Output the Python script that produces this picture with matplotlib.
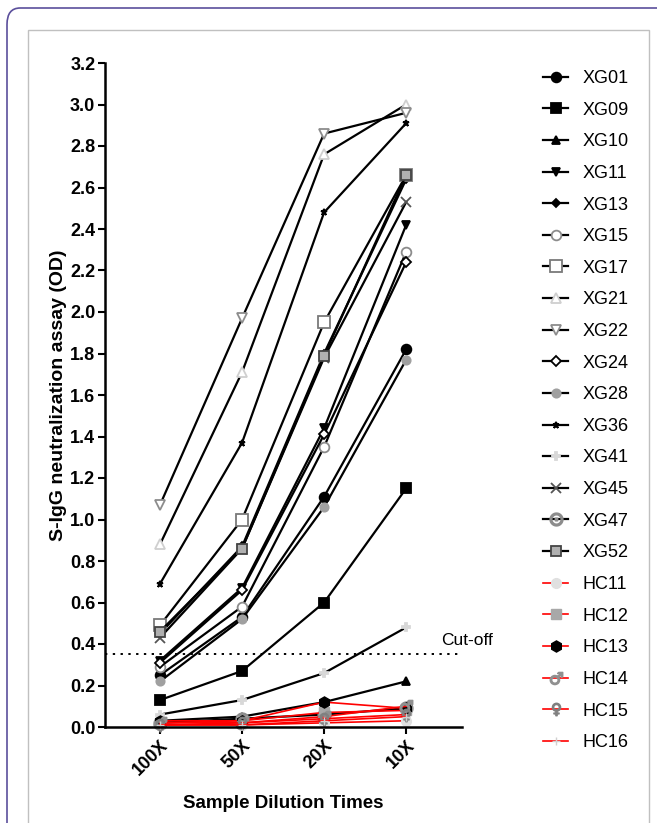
import matplotlib
matplotlib.use("Agg")
import matplotlib.pyplot as plt
from matplotlib.patches import FancyBboxPatch, Rectangle

plt.rcParams['font.family'] = ['Liberation Sans', 'DejaVu Sans']

dilutions = ['100X', '50X', '20X', '10X']
cutoff = 0.35

# S-IgG OD values per sample (100X, 50X, 20X, 10X)
xg01 = [0.25, 0.53, 1.11, 1.82]
xg09 = [0.13, 0.27, 0.60, 1.15]
xg10 = [0.03, 0.05, 0.12, 0.22]
xg11 = [0.32, 0.67, 1.44, 2.42]
xg13 = [0.45, 0.87, 1.80, 2.64]
xg15 = [0.29, 0.58, 1.35, 2.29]
xg17 = [0.49, 1.00, 1.95, 2.66]
xg21 = [0.88, 1.71, 2.76, 3.00]
xg22 = [1.07, 1.97, 2.86, 2.96]
xg24 = [0.31, 0.66, 1.41, 2.24]
xg28 = [0.22, 0.52, 1.06, 1.77]
xg36 = [0.69, 1.37, 2.48, 2.91]
xg41 = [0.06, 0.13, 0.26, 0.48]
xg45 = [0.43, 0.86, 1.78, 2.53]
xg47 = [0.02, 0.04, 0.06, 0.09]
xg52 = [0.46, 0.86, 1.79, 2.66]
hc11 = [0.01, 0.01, 0.02, 0.03]
hc12 = [0.02, 0.03, 0.07, 0.08]
hc13 = [0.03, 0.03, 0.12, 0.09]
hc14 = [0.02, 0.02, 0.05, 0.10]
hc15 = [0.01, 0.02, 0.04, 0.06]
hc16 = [0.01, 0.01, 0.03, 0.05]

# name, values, marker, marker face, marker edge, size
xg_series = [
    ('XG01', xg01, 'o', 'black', 'black', 7),
    ('XG09', xg09, 's', 'black', 'black', 7),
    ('XG10', xg10, '^', 'black', 'black', 6),
    ('XG11', xg11, 'v', 'black', 'black', 6),
    ('XG13', xg13, 'D', 'black', 'black', 4),
    ('XG15', xg15, 'o', 'white', '#8c8c8c', 7),
    ('XG17', xg17, 's', 'white', '#7a7a7a', 8),
    ('XG21', xg21, '^', 'white', '#cfcfcf', 7),
    ('XG22', xg22, 'v', 'white', '#8c8c8c', 7),
    ('XG24', xg24, 'D', 'white', 'black', 5),
    ('XG28', xg28, 'o', '#a0a0a0', '#a0a0a0', 6),
    ('XG36', xg36, '*', 'black', 'black', 5),
    ('XG41', xg41, 'P', '#d8d8d8', '#d8d8d8', 6),
    ('XG45', xg45, 'x', '#555555', '#555555', 7),
    ('XG47', xg47, r'$\odot$', '#8c8c8c', '#8c8c8c', 9),
    ('XG52', xg52, 's', '#b0b0b0', '#444444', 7),
]
hc_series = [
    ('HC11', hc11, 'o', '#e0e0e0', '#e0e0e0', 7),
    ('HC12', hc12, 's', '#a8a8a8', '#a8a8a8', 7),
    ('HC13', hc13, 'h', 'black', 'black', 8),
    ('HC14', hc14, '$\u2642$', '#909090', '#909090', 9),
    ('HC15', hc15, '$\u2640$', '#808080', '#808080', 9),
    ('HC16', hc16, '+', '#d0d0d0', '#d0d0d0', 6),
]

fig = plt.figure(figsize=(6.57, 8.23), dpi=100)

# page frames
fig.patches.append(FancyBboxPatch((7 / 657, -0.05), 1.1, 1 - 8 / 823 + 0.05,
                                  boxstyle='round,pad=0,rounding_size=0.02',
                                  transform=fig.transFigure, fill=False,
                                  edgecolor='#5b4f9c', linewidth=1.2))
fig.patches.append(Rectangle((28 / 657, -0.05), 621 / 657, 1 - 30 / 823 + 0.05,
                             transform=fig.transFigure, fill=False,
                             edgecolor='#c0c0c0', linewidth=1.0))

ax = fig.add_axes([105 / 657, 1 - 727 / 823, 357 / 657, 664 / 823])
x = list(range(len(dilutions)))

handles = []
for name, vals, mk, mfc, mec, ms in xg_series:
    h, = ax.plot(x, vals, color='black', linewidth=1.6, marker=mk,
                 markerfacecolor=mfc, markeredgecolor=mec, markersize=ms,
                 markeredgewidth=1.3, label=name, clip_on=False)
    handles.append(h)
for name, vals, mk, mfc, mec, ms in hc_series:
    h, = ax.plot(x, vals, color='red', linewidth=1.2, marker=mk,
                 markerfacecolor=mfc, markeredgecolor=mec, markersize=ms,
                 markeredgewidth=1.0, label=name, clip_on=False)
    handles.append(h)

ax.axhline(cutoff, color='black', linestyle=(0, (1.2, 2.8)), linewidth=1.4)
ax.text(3.42, cutoff + 0.03, 'Cut-off', fontsize=12.5, ha='left', va='bottom')

ax.set_xlim(-0.67, 3.68)
ax.set_ylim(0, 3.2)
ax.set_yticks([i * 0.2 for i in range(17)])
ax.set_yticklabels([f'{i * 0.2:.1f}' for i in range(17)], fontweight='bold', fontsize=13)
ax.set_xticks(x)
ax.set_xticklabels(dilutions, rotation=45, ha='right', rotation_mode='anchor',
                   fontweight='bold', fontsize=13)
for side in ['top', 'right']:
    ax.spines[side].set_visible(False)
for side in ['left', 'bottom']:
    ax.spines[side].set_linewidth(1.8)
ax.tick_params(axis='both', width=1.5, length=5, pad=2)
ax.set_ylabel('S-IgG neutralization assay (OD)', fontweight='bold', fontsize=14, labelpad=2)
ax.set_xlabel('Sample Dilution Times', fontweight='bold', fontsize=13.5, labelpad=12)

fig.legend(handles=handles, loc='upper left', bbox_to_anchor=(543 / 657, 1 - 70 / 823),
           frameon=False, fontsize=13, labelspacing=0.81, handlelength=1.4,
           handletextpad=0.8, borderaxespad=0, borderpad=0)

fig.savefig('out.png', dpi=100)
